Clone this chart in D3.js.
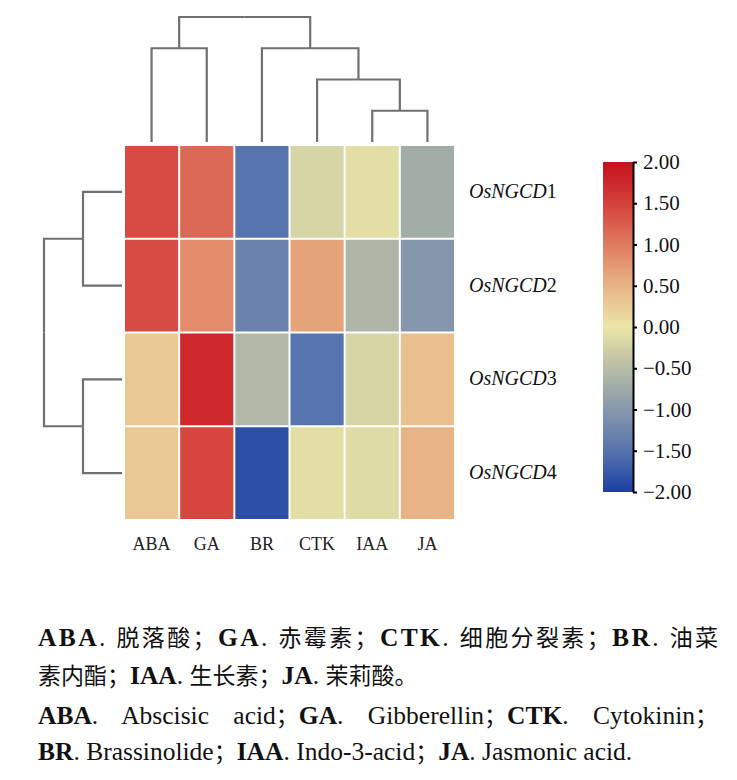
<!DOCTYPE html>
<html>
<head>
<meta charset="utf-8">
<script src="https://cdn.jsdelivr.net/npm/d3@7"></script>
<style>
  body { margin: 0; background: #fff; }
  svg { display: block; }
</style>
</head>
<body>
<svg id="chart" width="737" height="780"></svg>
<script>
// hormones (columns) and genes (rows)
const hormones = ['ABA', 'GA', 'BR', 'CTK', 'IAA', 'JA'];
const genes = ['1', '2', '3', '4'];

// z-scored expression, one row per gene
const zRow1 = [1.40, 1.15, -1.50, -0.20, -0.08, -0.70];
const zRow2 = [1.40, 0.85, -1.30, 0.65, -0.60, -1.00];
const zRow3 = [0.30, 1.75, -0.55, -1.50, -0.20, 0.38];
const zRow4 = [0.30, 1.45, -1.85, -0.08, -0.12, 0.50];
const zValues = [zRow1, zRow2, zRow3, zRow4];

// cluster trees (h = merge height)
const colTree = { h: 4, children: [
  { h: 3, children: [{ name: 'ABA' }, { name: 'GA' }] },
  { h: 3, children: [
    { name: 'BR' },
    { h: 2, children: [
      { name: 'CTK' },
      { h: 1, children: [{ name: 'IAA' }, { name: 'JA' }] }
    ] }
  ] }
] };
const rowTree = { h: 2, children: [
  { h: 1, children: [{ name: '1' }, { name: '2' }] },
  { h: 1, children: [{ name: '3' }, { name: '4' }] }
] };

const colorTicks = [2, 1.5, 1, 0.5, 0, -0.5, -1, -1.5, -2];
const colorStops = ['#1b3fa3', '#5874ae', '#8797ab', '#b6bca6', '#ece5a6',
                    '#e8b485', '#df7b60', '#d4403a', '#c5121f'];

const captionLines = [
  [['ABA', 1], ['. 脱落酸；', 0], ['GA', 1], ['. 赤霉素；', 0], ['CTK', 1], ['. 细胞分裂素；', 0], ['BR', 1], ['. 油菜', 0]],
  [['素内酯；', 0], ['IAA', 1], ['. 生长素；', 0], ['JA', 1], ['. 茉莉酸。', 0]],
  [['ABA', 1], ['. Abscisic acid；', 0], ['GA', 1], ['. Gibberellin；', 0], ['CTK', 1], ['. Cytokinin；', 0]],
  [['BR', 1], ['. Brassinolide；', 0], ['IAA', 1], ['. Indo-3-acid；', 0], ['JA', 1], ['. Jasmonic acid.', 0]]
];

const svg = d3.select('#chart')
  .style('font-family', "'Liberation Serif', 'Tinos', 'DejaVu Serif', 'Noto Sans CJK SC', serif");

const x = d3.scaleBand().domain(hormones).range([124, 455]);
const y = d3.scaleBand().domain(genes).range([145, 520]);

const color = d3.scaleLinear()
  .domain(d3.range(-2, 2.01, 0.5))
  .range(colorStops)
  .interpolate(d3.interpolateRgb);

// heatmap cells
const cells = [];
zValues.forEach((row, i) => row.forEach((v, j) => cells.push({ g: genes[i], h: hormones[j], v })));

svg.append('g')
  .selectAll('rect')
  .data(cells)
  .join('rect')
    .attr('x', d => x(d.h) + 1)
    .attr('y', d => y(d.g) + 1)
    .attr('width', x.bandwidth() - 2)
    .attr('height', y.bandwidth() - 2)
    .attr('fill', d => color(d.v));

// dendrograms
function layoutTree(tree, pos) {
  const root = d3.hierarchy(tree);
  root.eachAfter(n => {
    n.p = n.children ? d3.mean(n.children, c => c.p) : pos(n.data.name);
    n.hh = n.data.h || 0;
  });
  return root;
}

const colRoot = layoutTree(colTree, n => x(n) + x.bandwidth() / 2);
const colH = d3.scaleLinear().domain([0, 4]).range([142, 17]);
const rowRoot = layoutTree(rowTree, n => y(n) + y.bandwidth() / 2);
const rowH = d3.scaleLinear().domain([0, 2]).range([122, 44]);

svg.append('g')
  .attr('fill', 'none')
  .attr('stroke', '#707070')
  .attr('stroke-width', 2.2)
  .selectAll('path')
  .data(colRoot.links())
  .join('path')
    .attr('d', l => `M${l.target.p},${colH(l.target.hh)}V${colH(l.source.hh)}H${l.source.p}`);

svg.append('g')
  .attr('fill', 'none')
  .attr('stroke', '#707070')
  .attr('stroke-width', 2.2)
  .selectAll('path')
  .data(rowRoot.links())
  .join('path')
    .attr('d', l => `M${rowH(l.target.hh)},${l.target.p}H${rowH(l.source.hh)}V${l.source.p}`);

// column labels
svg.append('g')
  .selectAll('text')
  .data(hormones)
  .join('text')
    .attr('x', d => x(d) + x.bandwidth() / 2)
    .attr('y', 550)
    .attr('text-anchor', 'middle')
    .attr('font-size', 18)
    .attr('fill', '#222')
    .text(d => d);

// row labels
const rowLab = svg.append('g')
  .selectAll('text')
  .data(genes)
  .join('text')
    .attr('x', 469)
    .attr('y', d => y(d) + y.bandwidth() / 2 + 6)
    .attr('font-size', 20)
    .attr('fill', '#111');
rowLab.append('tspan').attr('font-style', 'italic').text('OsNGCD');
rowLab.append('tspan').text(d => d);

// colour bar
const cbY = d3.scaleLinear().domain([-2, 2]).range([492, 162]);
const grad = svg.append('defs')
  .append('linearGradient')
    .attr('id', 'cbar')
    .attr('x1', 0).attr('y1', 1).attr('x2', 0).attr('y2', 0);
grad.selectAll('stop')
  .data(d3.range(0, 1.001, 0.05))
  .join('stop')
    .attr('offset', d => d)
    .attr('stop-color', d => color(-2 + 4 * d));

svg.append('rect')
  .attr('x', 603)
  .attr('y', 162)
  .attr('width', 30)
  .attr('height', 330)
  .attr('fill', 'url(#cbar)');

svg.append('g')
  .attr('transform', 'translate(633,0)')
  .call(d3.axisRight(cbY)
    .tickValues(colorTicks)
    .tickFormat(d3.format('.2f'))
    .tickSize(4)
    .tickSizeOuter(0)
    .tickPadding(6))
  .call(g => g.attr('font-family', null))
  .call(g => g.select('.domain').attr('stroke', '#000').attr('stroke-width', 2))
  .call(g => g.selectAll('.tick line').attr('stroke', '#000').attr('stroke-width', 2))
  .call(g => g.selectAll('.tick text')
    .attr('font-size', 21)
    .attr('fill', '#111'));

// caption: CJK runs a bit smaller than the Latin text
const isCJK = /[\u3000-\u9fff\uff00-\uffef]/;
function runs(seg) {
  const out = [];
  for (const ch of seg[0]) {
    const c = isCJK.test(ch);
    const last = out[out.length - 1];
    if (last && last.c === c) last.t += ch;
    else out.push({ t: ch, c, b: seg[1] });
  }
  return out;
}

const capY = [646, 684, 724, 760];
const cap = svg.append('g')
  .selectAll('text')
  .data(captionLines)
  .join('text')
    .attr('x', 38)
    .attr('y', (d, i) => capY[i])
    .attr('font-size', 25.5)
    .attr('fill', '#111');
cap.selectAll('tspan')
  .data(d => d.flatMap(runs))
  .join('tspan')
    .attr('font-weight', d => d.b ? 'bold' : 'normal')
    .attr('font-size', d => d.c ? 23 : null)
    .text(d => d.t);

// justify lines 1 and 3 to the text block width
cap.filter((d, i) => i === 0)
  .each(function(d) {
    const w = this.getComputedTextLength();
    const n = d.map(s => s[0]).join('').length - 1;
    d3.select(this).attr('letter-spacing', Math.max(0, (680 - w) / n));
  });
cap.filter((d, i) => i === 2)
  .each(function(d) {
    const w = this.getComputedTextLength();
    const gaps = d.map(s => s[0]).join('').split(' ').length - 1;
    d3.select(this).attr('word-spacing', Math.max(0, (680 - w) / gaps));
  });
</script>
</body>
</html>
